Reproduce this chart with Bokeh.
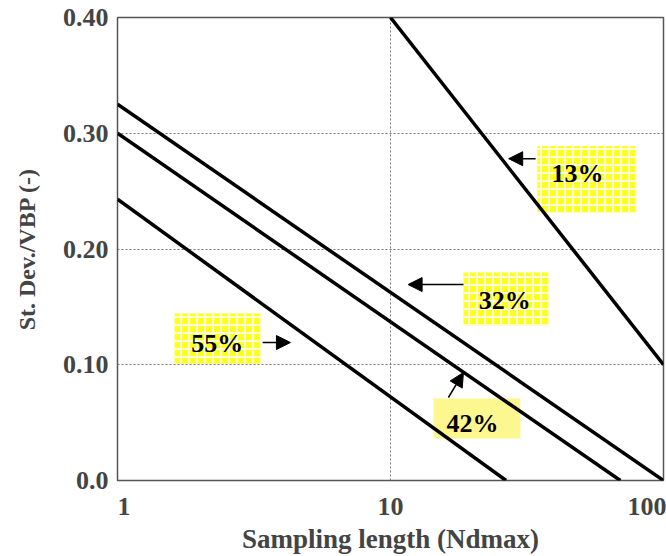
from bokeh.plotting import figure
from bokeh.models import (Range1d, FixedTicker, CustomJSTickFormatter, Label, Arrow,
                          NormalHead)
from bokeh.embed import file_html
from bokeh.resources import INLINE

# ---- data ----
series_names = ["13%", "32%", "42%", "55%"]
x_start = [10, 1, 1, 1]
y_start = [0.40, 0.325, 0.30, 0.243]
x_end = [100, 100, 69.5, 26.5]
y_end = [0.10, 0.0, 0.0, 0.0]

x_ticks = [1, 10, 100]
x_tick_labels = ["1", "10", "100"]
y_ticks = [0.0, 0.1, 0.2, 0.3, 0.4]

FONT = "Liberation Serif"
NB = "\u00a0"

p = figure(width=666, height=556, x_axis_type="log",
           x_range=Range1d(1, 100), y_range=Range1d(0, 0.4),
           output_backend="svg", toolbar_location=None,
           min_border_left=117, min_border_right=3,
           min_border_top=17, min_border_bottom=74)

p.background_fill_color = "white"
p.border_fill_color = "white"
p.outline_line_color = "#555555"
p.outline_line_width = 1.5

# grids
p.xgrid.ticker = FixedTicker(ticks=[10])
p.ygrid.ticker = FixedTicker(ticks=[0.1, 0.2, 0.3])
for g in (p.xgrid, p.ygrid):
    g.grid_line_color = "#777777"
    g.grid_line_dash = "2 2"
    g.grid_line_width = 1

# y axis
ya = p.yaxis[0]
ya.ticker = FixedTicker(ticks=y_ticks, minor_ticks=[])
ya.formatter = CustomJSTickFormatter(code="return tick == 0 ? '0.0' : tick.toFixed(2);")
ya.axis_label = "St. Dev./VBP (-)"
ya.axis_label_text_font = FONT
ya.axis_label_text_font_style = "bold"
ya.axis_label_text_font_size = "24px"
ya.axis_label_standoff = 20
ya.major_label_text_font = FONT
ya.major_label_text_font_style = "bold"
ya.major_label_text_font_size = "26px"
ya.major_label_standoff = 9
ya.major_tick_out = 0
ya.major_tick_in = 0
ya.minor_tick_line_color = None
ya.axis_line_color = None

# x axis: the first label sits a bit right of its tick
xa = p.xaxis[0]
xa.ticker = FixedTicker(ticks=x_ticks, minor_ticks=[])
xa.major_label_overrides = {
    1: NB * 2 + x_tick_labels[0],
    10: x_tick_labels[1],
    100: x_tick_labels[2],
}
xa.axis_label = "Sampling length (Ndmax)"
xa.axis_label_text_font = FONT
xa.axis_label_text_font_style = "bold"
xa.axis_label_text_font_size = "27px"
xa.axis_label_standoff = 0
xa.major_label_text_font = FONT
xa.major_label_text_font_style = "bold"
xa.major_label_text_font_size = "26px"
xa.major_label_standoff = 11
xa.major_tick_out = 0
xa.major_tick_in = 0
xa.minor_tick_line_color = None
xa.axis_line_color = None

# label boxes
boxes = {
    "13%": dict(l=34.5, r=78.9, t=0.289, b=0.2315, tx=48.4, ty=0.265, check=True),
    "32%": dict(l=18.5, r=37.9, t=0.1797, b=0.1339, tx=26.2, ty=0.1555, check=True),
    "42%": dict(l=14.37, r=29.9, t=0.0708, b=0.0363, tx=19.96, ty=0.0492, check=False),
    "55%": dict(l=1.618, r=3.34, t=0.1443, b=0.1011, tx=2.32, ty=0.1184, check=True),
}
for name in series_names:
    bx = boxes[name]
    if bx["check"]:
        p.quad(left=[bx["l"]], right=[bx["r"]], top=[bx["t"]], bottom=[bx["b"]],
               fill_color="#ffff22", line_color=None,
               hatch_pattern="cross", hatch_color="white", hatch_scale=8,
               hatch_weight=2, hatch_alpha=0.8)
    else:
        p.quad(left=[bx["l"]], right=[bx["r"]], top=[bx["t"]], bottom=[bx["b"]],
               fill_color="#fcf88f", line_color=None)

# lines
for xs, ys, xe, ye in zip(x_start, y_start, x_end, y_end):
    p.line([xs, xe], [ys, ye], line_color="black", line_width=3.5)

# label texts
for name in series_names:
    bx = boxes[name]
    p.add_layout(Label(x=bx["tx"], y=bx["ty"], text=name, text_align="center",
                       text_baseline="middle", text_font=FONT,
                       text_font_style="bold", text_font_size="26px",
                       text_color="black"))

# arrows
arrows = [
    (34.0, 0.278, 27.1, 0.278),
    (18.5, 0.1693, 11.6, 0.1693),
    (3.40, 0.1192, 4.30, 0.1192),
    (16.3, 0.0717, 18.5, 0.0933),
]
for x0, y0, x1, y1 in arrows:
    p.add_layout(Arrow(x_start=x0, y_start=y0, x_end=x1, y_end=y1,
                       line_width=1.5, line_color="black",
                       end=NormalHead(size=14, fill_color="black",
                                      line_color="black")))

open("out.html", "w").write(file_html(p, INLINE))
